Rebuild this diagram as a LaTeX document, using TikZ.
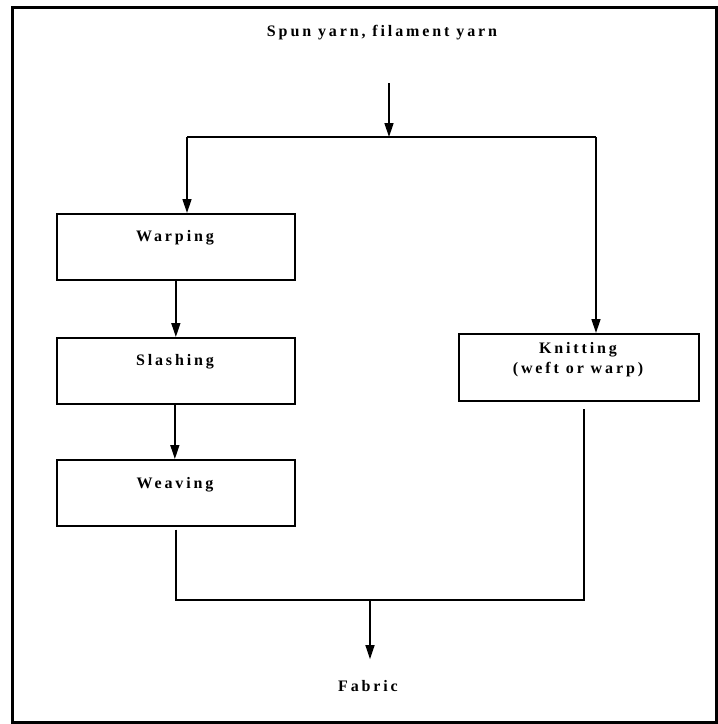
\documentclass[tikz,border=0pt]{standalone}
\usepackage{fontspec}
\setmainfont{Liberation Serif}[LetterSpace=18]
\usetikzlibrary{arrows.meta}
\begin{document}
\begin{tikzpicture}[x=1pt,y=-1pt,
  box/.style={draw, line width=1.7pt, minimum width=238pt, minimum height=66pt, inner sep=0pt, anchor=north west},
  lbl/.style={font=\fontsize{16}{20}\selectfont\bfseries, inner sep=0pt, align=center},
  conn/.style={line width=1.4pt},
  arr/.style={conn, -{Triangle[length=14pt,width=9pt]}}]
\useasboundingbox (0,0) rectangle (718,724);
% frame
\draw[line width=3pt] (12,7) rectangle (716,722);
% nodes
\node[lbl] (title) at (382,33) {Spun yarn, filament yarn};
\node[box] (warp) at (56,213) {};
\node[lbl] (warpT) at (175,238) {Warping};
\node[box] (slash) at (56,337) {};
\node[lbl] (slashT) at (175,362) {Slashing};
\node[box] (weave) at (56,459) {};
\node[lbl] (weaveT) at (175,485) {Weaving};
\node[box, minimum width=240pt, minimum height=67pt] (knit) at (458,333) {};
\node[lbl] (knitT) at (578,360) {Knitting\\(weft or warp)};
\node[lbl] (fabric) at (368,686) {Fabric};
% coordinates
\coordinate (top) at (389,83);
\coordinate (split) at (389,137);
\coordinate (L1) at (187,137);
\coordinate (R1) at (596,137);
\coordinate (J1) at (176,600);
\coordinate (J2) at (584,600);
\coordinate (J3) at (370,600);
% connectors
\draw[arr] (top) -- (split);
\draw[conn] (L1) -- (R1);
\draw[arr] (L1) -- (L1 |- warp.north);
\draw[arr] (R1) -- (R1 |- knit.north);
\draw[arr] (warp.south) -- (slash.north);
\draw[arr] ([xshift=-1pt]slash.south) -- ([xshift=-1pt]weave.north);
\draw[conn] ([yshift=-3pt]weave.south -| J1) -- (J1) -- (J2) -- ([yshift=-7pt]knit.south -| J2);
\draw[arr] (J3) -- ([yshift=21pt]fabric.north -| J3);
\end{tikzpicture}
\end{document}
